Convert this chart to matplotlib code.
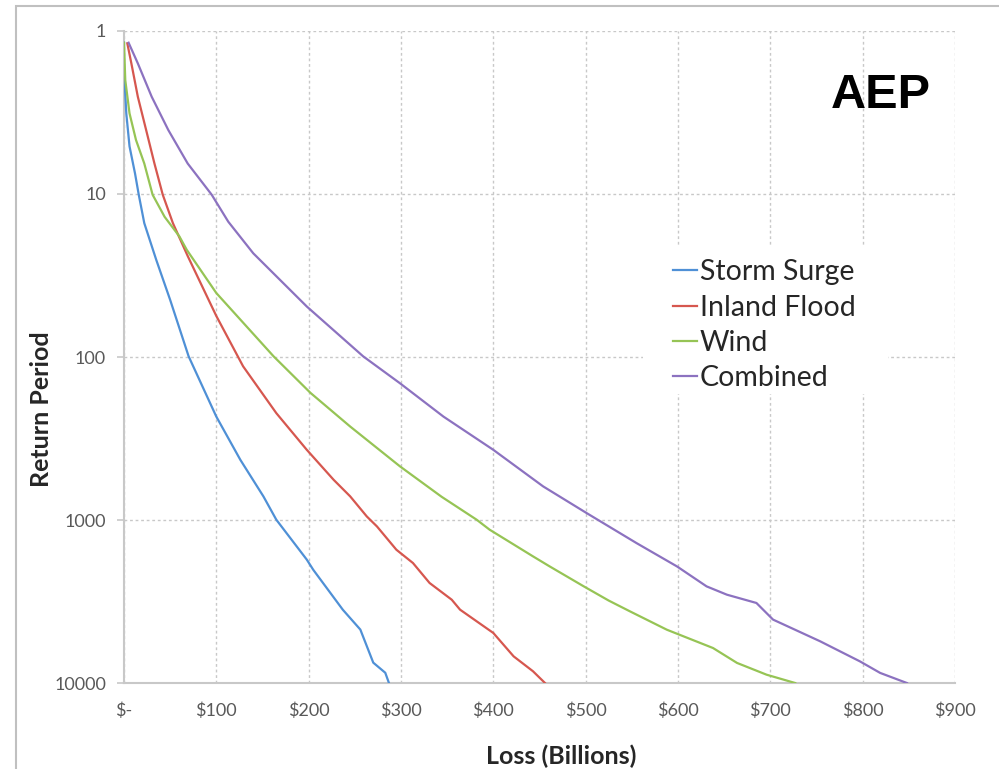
import matplotlib
matplotlib.use("Agg")
import matplotlib.pyplot as plt
from matplotlib.patches import Rectangle
from matplotlib.ticker import FixedLocator, NullLocator

# loss in $ billions, return period in years
surge_loss = [0, 0, 2.5, 6, 12, 16, 22, 35, 50, 70, 100, 126, 151, 165, 198, 205, 237, 256, 270, 283, 287]
surge_rp = [1.18, 1.73, 3.2, 5.1, 7.5, 10.1, 15.1, 25.4, 44.6, 99, 232, 427, 716, 996, 1750, 2020,
            3550, 4700, 7500, 8650, 10000]

flood_loss = [3.6, 8, 15, 24, 33, 42, 53, 69, 100, 129, 165, 198, 227, 245, 263, 274, 295, 313, 331,
              355, 364, 400, 422, 443, 456]
flood_rp = [1.19, 1.58, 2.53, 4.05, 6.5, 10.1, 15.1, 24, 56, 114, 221, 371, 566, 716, 951, 1095, 1521,
            1836, 2434, 3083, 3548, 4930, 6860, 8470, 10000]

wind_loss = [0, 1.4, 6, 13, 22, 31, 44, 60, 68, 100, 162, 202, 245, 299, 344, 382, 396, 443, 461, 498,
             525, 548, 588, 638, 664, 696, 727]
wind_rp = [1.18, 2.0, 3.2, 4.66, 6.5, 10.1, 13.8, 18.2, 22, 40.5, 99, 166, 267, 469, 720, 996, 1146,
           1671, 1925, 2553, 3120, 3633, 4710, 6100, 7530, 8890, 10000]

comb_loss = [5, 15, 30, 48, 69, 95, 113, 140, 198, 259, 299, 346, 400, 454, 501, 555, 599, 631, 653,
             685, 703, 754, 797, 819, 848]
comb_rp = [1.18, 1.58, 2.53, 4.05, 6.5, 10.1, 14.8, 23.1, 49, 99, 145, 232, 371, 622, 906, 1384, 1927,
           2553, 2871, 3228, 4083, 5546, 7360, 8670, 10000]

x_ticks = [0, 100, 200, 300, 400, 500, 600, 700, 800, 900]
x_labels = ["$-", "$100", "$200", "$300", "$400", "$500", "$600", "$700", "$800", "$900"]
y_ticks = [1, 10, 100, 1000, 10000]
y_labels = ["1", "10", "100", "1000", "10000"]

series = [
    ("Storm Surge", surge_loss, surge_rp, "#4f90d6"),
    ("Inland Flood", flood_loss, flood_rp, "#d6574f"),
    ("Wind", wind_loss, wind_rp, "#96c455"),
    ("Combined", comb_loss, comb_rp, "#8c72c0"),
]

GRID = "#c8c8c8"
plt.rcParams["font.family"] = ["Lato", "DejaVu Sans"]

fig = plt.figure(figsize=(9.99, 7.69), dpi=100)
ax = fig.add_axes([0.1241, 0.1118, 0.8318, 0.8479])

for name, xs, ys, col in series:
    ax.plot(xs, ys, color=col, lw=1.6, label=name, zorder=3)

ax.set_yscale("log")
ax.set_ylim(10000, 1)
ax.set_xlim(0, 900)
ax.yaxis.set_major_locator(FixedLocator(y_ticks))
ax.yaxis.set_minor_locator(NullLocator())
ax.set_yticklabels(y_labels)
ax.set_xticks(x_ticks)
ax.set_xticklabels(x_labels)

ax.set_axisbelow(True)
ax.grid(True, color=GRID, lw=1.0, ls=(0, (2, 2)))
for s in ["top", "right"]:
    ax.spines[s].set_visible(False)
for s in ["left", "bottom"]:
    ax.spines[s].set_color(GRID)
    ax.spines[s].set_linewidth(1.5)
ax.tick_params(axis="y", length=5, color=GRID, width=1.2, pad=8, labelsize=13, labelcolor="#595959")
ax.tick_params(axis="x", length=0, pad=14, labelsize=13, labelcolor="#595959")

ax.set_xlabel("Loss (Billions)", fontsize=18, fontweight="bold", color="#262626", va="center")
ax.xaxis.set_label_coords(0.526, -0.112)
ax.set_ylabel("Return Period", fontsize=18, fontweight="bold", color="#262626", va="center")
ax.yaxis.set_label_coords(-0.0987, 0.42)

# white legend box sitting over the grid
ax.add_patch(Rectangle((0.6245, 0.443), 0.2945, 0.226, transform=ax.transAxes,
                       facecolor="white", edgecolor="none", zorder=2))
leg = ax.legend(loc="upper left", bbox_to_anchor=(0.661, 0.650), frameon=False, fontsize=20.5,
                handlelength=0.85, handletextpad=0.08, labelspacing=0.33, borderpad=0,
                borderaxespad=0)
for t in leg.get_texts():
    t.set_color("#262626")

ax.text(0.911, 0.882, "AEP", transform=ax.transAxes, ha="center", va="baseline",
        fontsize=35, fontweight="bold", family=["Liberation Sans", "DejaVu Sans"], color="black")

# outer chart frame (runs off the right and bottom edges)
fig.patches.append(Rectangle((16 / 999, -0.1), 1.2, 1.1 - 6 / 769, transform=fig.transFigure,
                             facecolor="none", edgecolor="#c0c0c0", lw=1.5, clip_on=False))

fig.savefig("out.png", dpi=100)
